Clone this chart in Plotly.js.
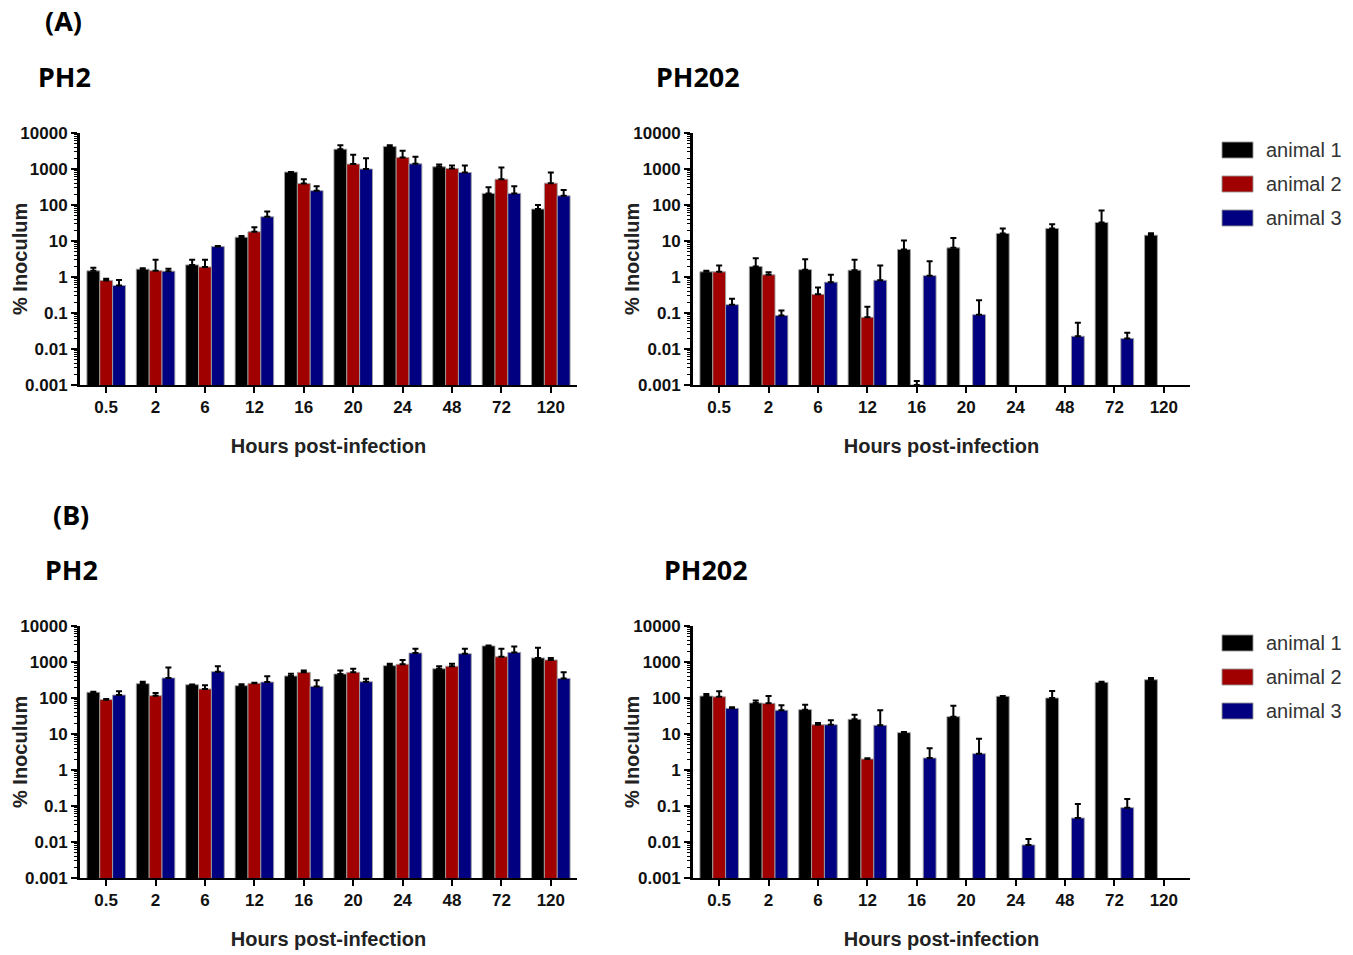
<!DOCTYPE html>
<html>
<head>
<meta charset="utf-8">
<script src="https://cdn.plot.ly/plotly-3.0.1.min.js"></script>
<style>html,body{margin:0;padding:0;background:#fff;}#chart{width:1353px;height:955px;}</style>
</head>
<body>
<div id="chart"></div>
<script>
// ---- data ----
const hours = ["0.5","2","6","12","16","20","24","48","72","120"];
const animals = ["animal 1","animal 2","animal 3"];
const colors = ["#000000","#a00000","#000080"];
const yTickVals = [0.001,0.01,0.1,1,10,100,1000,10000];
const yTickText = ["0.001","0.01","0.1","1","10","100","1000","10000"];

// (A) PH2
const aPH2_1 = [1.48,1.65,2.17,12.7,820,3550,4200,1150,210,77];
const aPH2_1err = [0.32,0.1,0.83,1.0,10,1050,400,180,100,23];
const aPH2_2 = [0.80,1.5,1.9,18,395,1370,2100,1030,520,405];
const aPH2_2err = [0.1,1.5,1.1,6,125,1130,1100,220,580,395];
const aPH2_3 = [0.58,1.45,7.0,47,250,1000,1390,800,210,180];
const aPH2_3err = [0.25,0.25,0.3,19,80,1000,810,450,120,80];

// (A) PH202
const aPH202_1 = [1.39,1.95,1.6,1.55,5.8,6.45,16.2,22.3,32.6,14.5];
const aPH202_1err = [0.09,1.35,1.5,1.45,4.5,5.75,6.1,7.1,37.4,2.0];
const aPH202_2 = [1.39,1.15,0.33,0.076,0.001,null,null,null,null,null];
const aPH202_2err = [0.69,0.21,0.18,0.074,0.0003,null,null,null,null,null];
const aPH202_3 = [0.17,0.085,0.72,0.81,1.09,0.09,null,0.0226,0.0195,null];
const aPH202_3err = [0.08,0.032,0.43,1.29,1.66,0.136,null,0.031,0.009,null];

// (B) PH2
const bPH2_1 = [144,250,234,220,408,464,790,650,2800,1300];
const bPH2_1err = [4,34,3,20,67,121,110,110,60,1200];
const bPH2_2 = [90,116,178,255,515,515,865,760,1400,1140];
const bPH2_2err = [4,21,48,10,70,135,275,140,950,160];
const bPH2_3 = [121,360,540,277,210,283,1780,1700,1850,350];
const bPH2_3err = [32,340,220,123,100,57,570,650,850,170];

// (B) PH202
const bPH202_1 = [113,72.7,47.5,25.5,10.9,30.3,111,100,272,322];
const bPH202_1err = [17,13,17.5,9,0.5,31,2,56,12,38];
const bPH202_2 = [108,71,18.1,2.02,null,null,null,null,null,null];
const bPH202_2err = [45,42,2.1,0.1,null,null,null,null,null,null];
const bPH202_3 = [51.5,45.5,18.1,17.4,2.15,2.84,0.0083,0.0465,0.09,null];
const bPH202_3err = [3.5,17.5,6,28,1.85,4.5,0.0039,0.067,0.067,null];

const panels = [
  {ax:"", series:[[aPH2_1,aPH2_1err],[aPH2_2,aPH2_2err],[aPH2_3,aPH2_3err]]},
  {ax:"2", series:[[aPH202_1,aPH202_1err],[aPH202_2,aPH202_2err],[aPH202_3,aPH202_3err]]},
  {ax:"3", series:[[bPH2_1,bPH2_1err],[bPH2_2,bPH2_2err],[bPH2_3,bPH2_3err]]},
  {ax:"4", series:[[bPH202_1,bPH202_1err],[bPH202_2,bPH202_2err],[bPH202_3,bPH202_3err]]}
];

const traces = [];
panels.forEach(p => {
  p.series.forEach((s, i) => {
    traces.push({
      type: "bar",
      name: animals[i],
      x: hours,
      y: s[0],
      xaxis: "x" + p.ax,
      yaxis: "y" + p.ax,
      showlegend: false,
      marker: {color: colors[i], line: {color: "rgba(160,160,160,0.9)", width: 1}},
      error_y: {type: "data", symmetric: false, array: s[1],
                arrayminus: s[1].map(() => 0), color: "#000", thickness: 2, width: 3},
      hoverinfo: "x+y+name"
    });
  });
});

const W = 1353, H = 955;
const px = v => v / W;
const py = v => 1 - v / H;

const tickFont = {family: "Liberation Sans, Arial, sans-serif", size: 17, color: "#111", weight: "bold"};
const titleFont = {family: "Liberation Sans, Arial, sans-serif", size: 20, color: "#222", weight: "bold"};

function xAxis(x0, x1, anchor) {
  return {
    domain: [px(x0), px(x1)], anchor: anchor, type: "category",
    range: [-0.53, 9.53],
    showline: true, linecolor: "#000", linewidth: 2,
    ticks: "outside", ticklen: 6, tickwidth: 2, tickcolor: "#000",
    showgrid: false, zeroline: false, tickfont: tickFont,
    title: {text: "Hours post-infection", font: titleFont, standoff: 23}
  };
}
function yAxis(y0, y1, anchor) {
  return {
    domain: [py(y1), py(y0)], anchor: anchor, type: "log",
    range: [-3, 4],
    tickvals: yTickVals, ticktext: yTickText,
    showline: true, linecolor: "#000", linewidth: 3,
    ticks: "outside", ticklen: 6, tickwidth: 2, tickcolor: "#000",
    minor: {ticks: "outside", ticklen: 3, tickwidth: 1, tickcolor: "#000", dtick: "D1", showgrid: false},
    showgrid: false, zeroline: false, tickfont: tickFont
  };
}

const layout = {
  width: W, height: H,
  margin: {l: 0, r: 0, t: 0, b: 0},
  paper_bgcolor: "#fff", plot_bgcolor: "#fff",
  showlegend: false,
  barmode: "group", bargap: 0.22, bargroupgap: 0,
  xaxis: xAxis(80, 577, "y"),
  yaxis: yAxis(133, 385, "x"),
  xaxis2: xAxis(693, 1190, "y2"),
  yaxis2: yAxis(133, 385, "x2"),
  xaxis3: xAxis(80, 577, "y3"),
  yaxis3: yAxis(626, 878, "x3"),
  xaxis4: xAxis(693, 1190, "y4"),
  yaxis4: yAxis(626, 878, "x4"),
  shapes: [],
  annotations: []
};

// y-axis titles
[[20,259],[632,259],[20,752],[632,752]].forEach(t => {
  layout.annotations.push({text: "% Inoculum", x: px(t[0]), y: py(t[1]), xref: "paper", yref: "paper",
    xanchor: "center", yanchor: "middle", textangle: -90, showarrow: false, font: titleFont});
});

const headFont = {family: "Noto Sans, Open Sans, sans-serif", size: 27, color: "#000", weight: "bold"};
[["(A)",43,20],["PH2",36,76],["PH202",654,76],["(B)",51,514],["PH2",43,569],["PH202",662,569]].forEach(t => {
  layout.annotations.push({text: t[0], x: px(t[1]), y: py(t[2]), xref: "paper", yref: "paper",
    xanchor: "left", yanchor: "middle", showarrow: false, font: headFont});
});

// legends (one for each row)
[150, 643].forEach(top => {
  animals.forEach((name, i) => {
    const yc = top + i * 34;
    layout.shapes.push({type: "rect", xref: "paper", yref: "paper",
      x0: px(1222), x1: px(1253), y0: py(yc + 8), y1: py(yc - 8),
      fillcolor: colors[i], line: {color: "rgba(150,150,150,0.9)", width: 1}});
    layout.annotations.push({text: name, x: px(1264), y: py(yc), xref: "paper", yref: "paper",
      xanchor: "left", yanchor: "middle", showarrow: false,
      font: {family: "Liberation Sans, Arial, sans-serif", size: 20, color: "#333"}});
  });
});

Plotly.newPlot("chart", traces, layout, {displayModeBar: false, staticPlot: true});
</script>
</body>
</html>
